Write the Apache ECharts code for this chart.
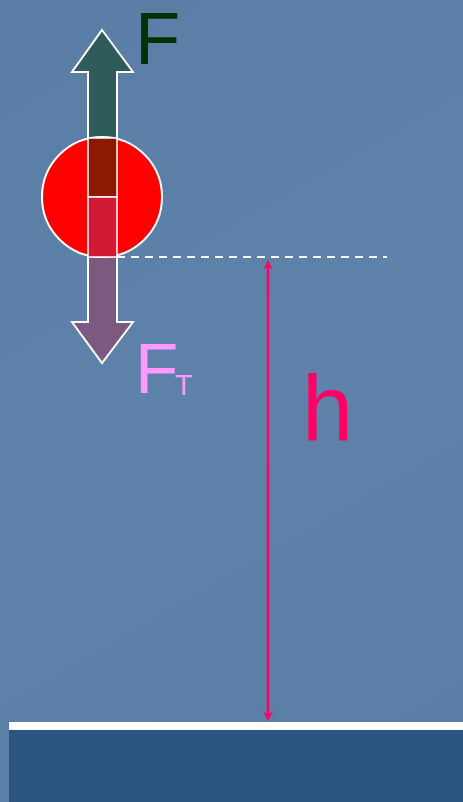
<!DOCTYPE html>
<html><head><meta charset="utf-8">
<style>html,body{margin:0;padding:0;background:#5d80a8}#c{width:463px;height:802px}</style>
<script src="https://cdn.jsdelivr.net/npm/echarts@6/dist/echarts.min.js"></script>
</head><body><div id="c"></div>
<script>
// Diagram geometry in diagram units (x: 0..463, y: 0..802 downward)
const upArrow = [[102,30],[133,72],[117,72],[117,197],[88,197],[88,72],[72,72]];
const downArrow = [[88,197],[117,197],[117,322],[133,322],[102,363],[72,322],[88,322]];
const ball = [102,197,60];
const shaftUpper = [[88,138],[117,197]];
const shaftLower = [[88,197],[117,257]];
const dashLine = [[117,257],[387,257]];
const heightLine = [[268,260],[268,721]];
const groundLine = [[9,722],[463,730]];
const groundBlock = [[9,730],[463,802]];
const labelTexts = ['F','F','T','h'];
const labelPos = [[135,7],[135,338],[175,372],[302,369]];
const labelSizes = [74,71,29,92];
const labelColors = ['#003300','#ff99ff','#ff99ff','#ff0066'];

const chart = echarts.init(document.getElementById('c'), null, {renderer:'canvas'});

function poly(api, pts, style){
  return {type:'polygon', shape:{points: pts.map(p=>api.coord(p))}, style};
}
function rect(api, r, style){
  const a = api.coord(r[0]), b = api.coord(r[1]);
  return {type:'rect', shape:{x:Math.min(a[0],b[0]), y:Math.min(a[1],b[1]), width:Math.abs(b[0]-a[0]), height:Math.abs(b[1]-a[1])}, style};
}
function arrowHead(api, tip, dir){
  const L = 10, W = 5, N = 6;
  return poly(api, [[tip[0],tip[1]],[tip[0]+W,tip[1]-dir*L],[tip[0],tip[1]-dir*N],[tip[0]-W,tip[1]-dir*L]], {fill:'#ff0066'});
}

const shapes = ['ground','groundLine','down','up','ball','shaftU','shaftL','dash','hline','labels'];

chart.setOption({
  backgroundColor: {type:'linear', x:0, y:0, x2:1, y2:1, colorStops:[{offset:0,color:'#597da5'},{offset:0.5,color:'#5e82a9'},{offset:1,color:'#597da5'}]},
  animation:false,
  grid:{left:0,right:0,top:0,bottom:0},
  xAxis:{type:'value',min:0,max:463,show:false},
  yAxis:{type:'value',min:0,max:802,inverse:true,show:false},
  series:[{
    type:'custom',
    coordinateSystem:'cartesian2d',
    data: shapes.map((s,i)=>[i]),
    renderItem:function(params, api){
      const s = shapes[params.dataIndex];
      const stroke = {stroke:'#ffffff', lineWidth:2};
      switch(s){
        case 'ground': return rect(api, groundBlock, {fill:'#2c5681'});
        case 'groundLine': return rect(api, groundLine, {fill:'#ffffff'});
        case 'up': return poly(api, upArrow, Object.assign({fill:'#2f5b5b'}, stroke));
        case 'down': return poly(api, downArrow, Object.assign({fill:'#7a5a80'}, stroke));
        case 'ball': {
          const c = api.coord([ball[0], ball[1]]);
          const r = api.size([ball[2], 0])[0];
          return {type:'circle', shape:{cx:c[0], cy:c[1], r:r}, style:{fill:'#ff0000', stroke:'#ffffff', lineWidth:2}};
        }
        case 'shaftU': return rect(api, shaftUpper, {fill:'#8b1a00', stroke:'#ffffff', lineWidth:1.5});
        case 'shaftL': return rect(api, shaftLower, {fill:'#d21a36', stroke:'#ffffff', lineWidth:1.5});
        case 'dash': {
          const a = api.coord(dashLine[0]), b = api.coord(dashLine[1]);
          return {type:'line', shape:{x1:a[0],y1:a[1],x2:b[0],y2:b[1]}, style:{stroke:'#ffffff', lineWidth:2, lineDash:[8,6]}};
        }
        case 'hline': {
          const a = api.coord(heightLine[0]), b = api.coord(heightLine[1]);
          return {type:'group', children:[
            {type:'line', shape:{x1:a[0],y1:a[1]+4,x2:b[0],y2:b[1]-4}, style:{stroke:'#ff0066', lineWidth:2.5}},
            arrowHead(api, heightLine[0], -1),
            arrowHead(api, heightLine[1], 1)
          ]};
        }
        case 'labels': {
          return {type:'group', children: labelTexts.map((t,i)=>{
            const p = api.coord(labelPos[i]);
            return {type:'text', style:{x:p[0], y:p[1], text:t, fill:labelColors[i],
              font: labelSizes[i]+'px "Liberation Sans", Arial, sans-serif', textVerticalAlign:'top', textAlign:'left'}};
          })};
        }
      }
    }
  }]
});
</script></body></html>
